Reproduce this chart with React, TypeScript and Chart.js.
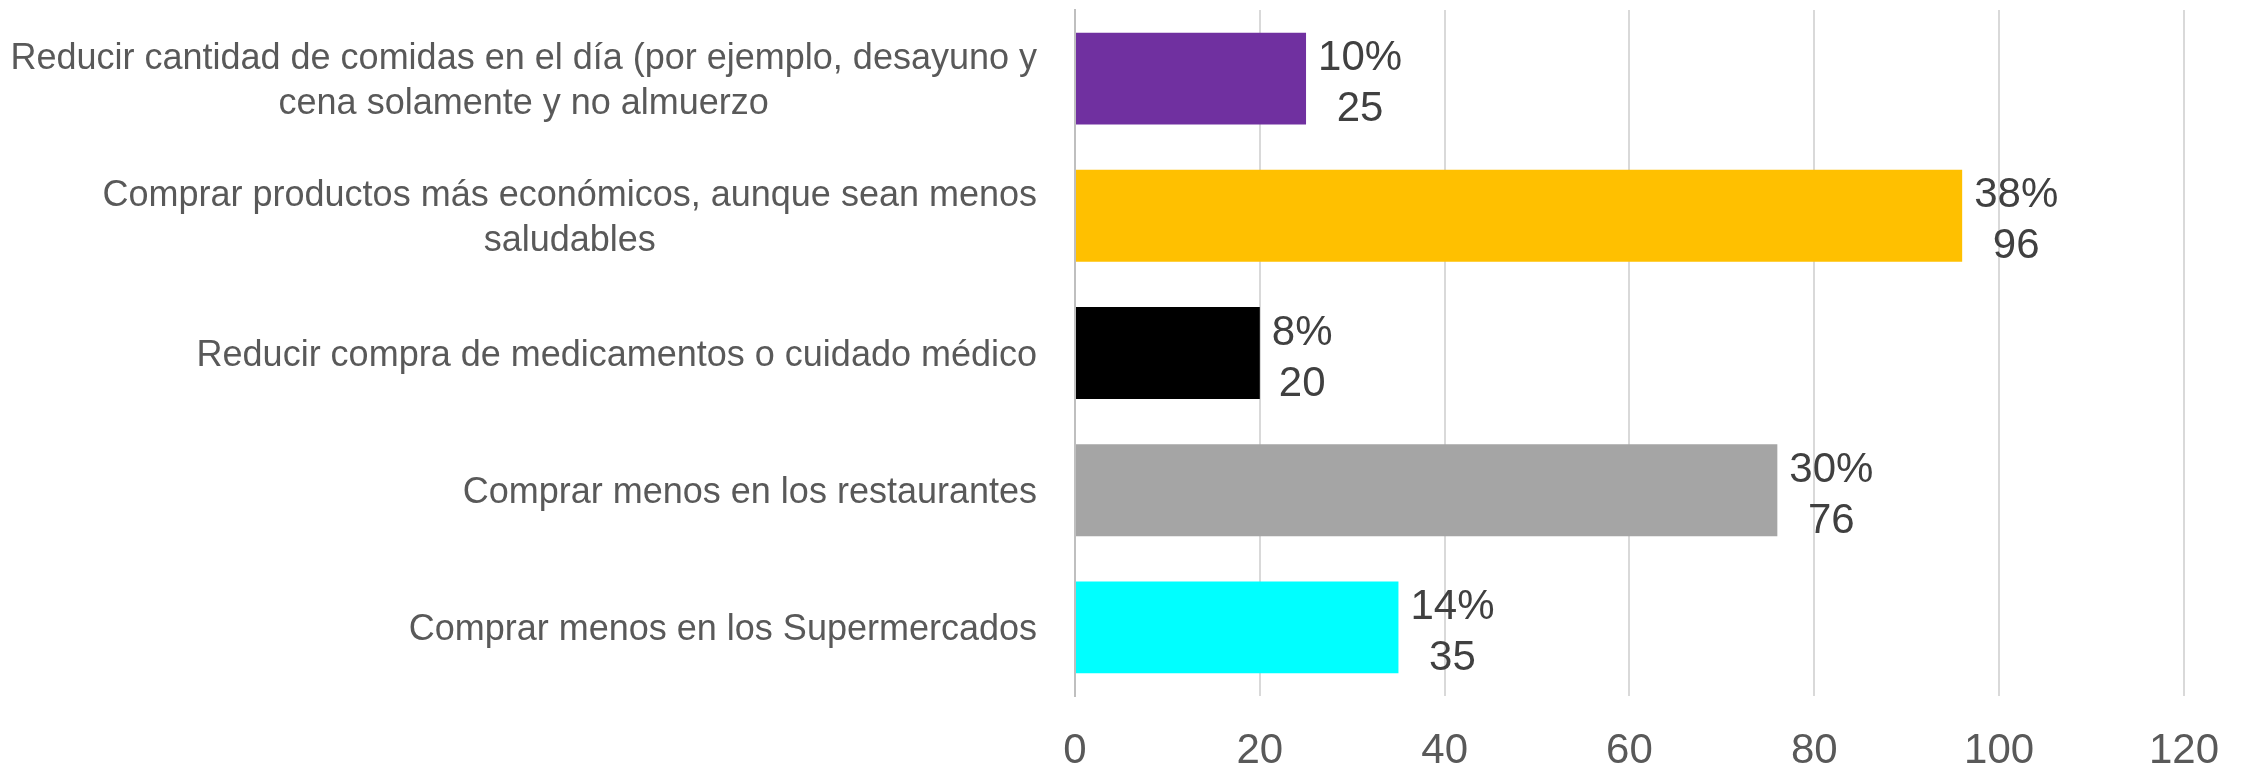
import { useEffect, useRef } from "react";
import { Chart, registerables } from "chart.js";

Chart.register(...registerables);

const CATEGORIES: string[][] = [
  ["Reducir cantidad de comidas en el día (por ejemplo, desayuno y", "cena solamente y no almuerzo"],
  ["Comprar productos más económicos, aunque sean menos", "saludables"],
  ["Reducir compra de medicamentos o cuidado médico"],
  ["Comprar menos en los restaurantes"],
  ["Comprar menos en los Supermercados"],
];
const COUNTS: number[] = [25, 96, 20, 76, 35];
const PERCENTS: string[] = ["10%", "38%", "8%", "30%", "14%"];
const BAR_COLORS: string[] = ["#7030A0", "#FFC000", "#000000", "#A5A5A5", "#00FFFF"];
const X_MIN = 0;
const X_MAX = 120;
const X_STEP = 20;

const FONT = '"Liberation Sans", Arial, sans-serif';

const categoryLabelPlugin = {
  id: "categoryLabels",
  afterDraw(chart: any) {
    const ctx = chart.ctx as CanvasRenderingContext2D;
    const yScale = chart.scales.y;
    const area = chart.chartArea;
    ctx.save();
    ctx.font = `36px ${FONT}`;
    ctx.fillStyle = "#595959";
    ctx.textAlign = "center";
    ctx.textBaseline = "alphabetic";
    const right = area.left - 38;
    CATEGORIES.forEach((lines, i) => {
      const cy = yScale.getPixelForTick(i);
      const w = Math.max(...lines.map((l) => ctx.measureText(l).width));
      const cx = right - w / 2;
      lines.forEach((line, j) => {
        ctx.fillText(line, cx, cy + (j - (lines.length - 1) / 2) * 45 + 13);
      });
    });
    ctx.restore();
  },
};

const valueLabelPlugin = {
  id: "valueLabels",
  afterDatasetsDraw(chart: any) {
    const ctx = chart.ctx as CanvasRenderingContext2D;
    const meta = chart.getDatasetMeta(0);
    ctx.save();
    ctx.font = `42px ${FONT}`;
    ctx.fillStyle = "#404040";
    ctx.textAlign = "center";
    ctx.textBaseline = "alphabetic";
    meta.data.forEach((el: any, i: number) => {
      const lines = [PERCENTS[i], String(COUNTS[i])];
      const w = Math.max(...lines.map((l) => ctx.measureText(l).width));
      const cx = el.x + 12 + w / 2;
      ctx.fillText(lines[0], cx, el.y - 8.5);
      ctx.fillText(lines[1], cx, el.y + 42.5);
    });
    ctx.restore();
  },
};

export default function App() {
  const ref = useRef<HTMLCanvasElement | null>(null);

  useEffect(() => {
    if (!ref.current) return;
    const chart = new Chart(ref.current, {
      type: "bar",
      data: {
        labels: CATEGORIES,
        datasets: [
          {
            data: COUNTS,
            backgroundColor: BAR_COLORS,
            borderWidth: 0,
            barPercentage: 0.67,
            categoryPercentage: 1,
          },
        ],
      },
      options: {
        indexAxis: "y",
        animation: false,
        responsive: false,
        maintainAspectRatio: false,
        layout: { padding: { top: 10, right: 64, bottom: 0, left: 0 } },
        plugins: {
          legend: { display: false },
          tooltip: { enabled: false },
          title: { display: false },
        },
        scales: {
          x: {
            type: "linear",
            min: X_MIN,
            max: X_MAX,
            ticks: {
              stepSize: X_STEP,
              color: "#595959",
              font: { family: FONT, size: 42 },
              padding: 30,
            },
            grid: { color: "#D9D9D9", lineWidth: 2, drawTicks: false },
            border: { display: false },
            afterFit: (s: any) => {
              s.height = 78;
            },
          },
          y: {
            type: "category",
            ticks: { display: false },
            grid: { display: false, drawTicks: false },
            border: { display: true, color: "#BFBFBF", width: 2 },
            afterFit: (s: any) => {
              s.width = 1075;
            },
          },
        },
      },
      plugins: [valueLabelPlugin, categoryLabelPlugin],
    } as any);
    return () => chart.destroy();
  }, []);

  return (
    <div style={{ position: "fixed", left: 0, top: 0, width: 2249, height: 774, background: "#fff" }}>
      <canvas ref={ref} width={2249} height={774} style={{ display: "block" }} />
    </div>
  );
}
